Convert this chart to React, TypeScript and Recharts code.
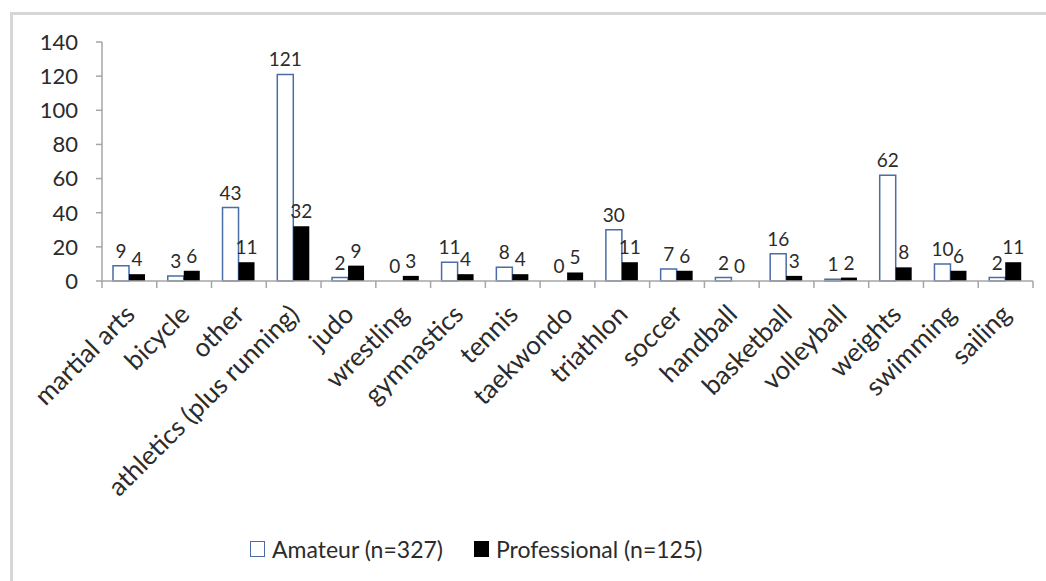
import React from "react";
import { BarChart, Bar, XAxis, YAxis, LabelList, Legend, Rectangle } from "recharts";

const categories = [
  "martial arts",
  "bicycle",
  "other",
  "athletics (plus running)",
  "judo",
  "wrestling",
  "gymnastics",
  "tennis",
  "taekwondo",
  "triathlon",
  "soccer",
  "handball",
  "basketball",
  "volleyball",
  "weights",
  "swimming",
  "sailing",
];
const amateur = [9, 3, 43, 121, 2, 0, 11, 8, 0, 30, 7, 2, 16, 1, 62, 10, 2];
const professional = [4, 6, 11, 32, 9, 3, 4, 4, 5, 11, 6, 0, 3, 2, 8, 6, 11];
const yTicks = [0, 20, 40, 60, 80, 100, 120, 140];
const seriesNames = ["Amateur (n=327)", "Professional (n=125)"];

const data = categories.map((c, i) => ({
  name: c,
  amateur: amateur[i],
  professional: professional[i],
}));

const W = 1046;
const H = 581;
const M_LEFT = 0;
const Y_W = 102;
const M_RIGHT = 13;
const PLOT_W = W - M_LEFT - Y_W - M_RIGHT;
const CAT_W = PLOT_W / categories.length;
const FONT = "Lato, 'Open Sans', sans-serif";
const TEXT = "#2b2b2b";
const AXIS = "#A6A6A6";
const BLUE = "#4A6CA8";

const XTick = (props: any) => {
  const { x, y, payload, index } = props;
  const lx = x - CAT_W / 2;
  const ax = x + 7;
  const ay = y + 35;
  return (
    <g>
      <line x1={lx} y1={y} x2={lx} y2={y + 7} stroke={AXIS} strokeWidth={1.5} />
      {index === categories.length - 1 && (
        <line x1={x + CAT_W / 2} y1={y} x2={x + CAT_W / 2} y2={y + 7} stroke={AXIS} strokeWidth={1.5} />
      )}
      <text
        x={ax}
        y={ay}
        transform={`rotate(-45, ${ax}, ${ay})`}
        textAnchor="end"
        fontSize={26}
        fontFamily={FONT}
        fill={TEXT}
      >
        {payload.value}
      </text>
    </g>
  );
};

const makeShape = (key: string) => (props: any) => {
  if (!props.payload || props.payload[key] === 0) return <g />;
  return <Rectangle {...props} />;
};

const LegendContent = () => (
  <div style={{ display: "flex", alignItems: "center", fontFamily: FONT, fontSize: 23, color: TEXT }}>
    <span style={{ display: "inline-block", width: 13, height: 14, border: `1.5px solid ${BLUE}`, background: "#fff", marginRight: 7 }} />
    <span style={{ marginRight: 31 }}>{seriesNames[0]}</span>
    <span style={{ display: "inline-block", width: 15, height: 16, background: "#000", marginRight: 7 }} />
    <span>{seriesNames[1]}</span>
  </div>
);

export default function App() {
  return (
    <div style={{ position: "absolute", left: 0, top: 0, width: W, height: H, background: "#fff" }}>
      <div
        style={{
          position: "absolute",
          left: 10,
          top: 12,
          right: 0,
          bottom: 0,
          borderTop: "3px solid #D6D6D6",
          borderLeft: "3px solid #D6D6D6",
        }}
      />
      <BarChart
        width={W}
        height={H}
        data={data}
        margin={{ top: 42, right: M_RIGHT, left: M_LEFT, bottom: 100 }}
        barGap={0}
        barSize={16}
        style={{ position: "absolute", left: 0, top: 0 }}
      >
        <XAxis
          dataKey="name"
          interval={0}
          height={200}
          tickSize={0}
          tickMargin={0}
          tickLine={false}
          axisLine={{ stroke: AXIS, strokeWidth: 1.5 }}
          tick={<XTick />}
        />
        <YAxis
          width={Y_W}
          domain={[0, 140]}
          ticks={yTicks}
          interval={0}
          tickSize={6}
          tickMargin={18}
          axisLine={{ stroke: AXIS, strokeWidth: 1.5 }}
          tickLine={{ stroke: AXIS, strokeWidth: 1.5 }}
          tick={{ fontSize: 22, fontFamily: FONT, fill: TEXT }}
        />
        <Legend
          layout="horizontal"
          verticalAlign="middle"
          align="center"
          content={<LegendContent />}
          wrapperStyle={{ position: "absolute", top: 535, left: 250, width: "auto" }}
        />
        <Bar
          dataKey="amateur"
          name={seriesNames[0]}
          fill="#ffffff"
          stroke={BLUE}
          strokeWidth={1.5}
          minPointSize={0.5}
          shape={makeShape("amateur")}
          isAnimationActive={false}
        >
          <LabelList dataKey="amateur" position="top" offset={8} style={{ fontSize: 19, fontFamily: FONT, fill: TEXT }} />
        </Bar>
        <Bar
          dataKey="professional"
          name={seriesNames[1]}
          fill="#000000"
          minPointSize={0.5}
          shape={makeShape("professional")}
          isAnimationActive={false}
        >
          <LabelList dataKey="professional" position="top" offset={8} style={{ fontSize: 19, fontFamily: FONT, fill: TEXT }} />
        </Bar>
      </BarChart>
    </div>
  );
}
